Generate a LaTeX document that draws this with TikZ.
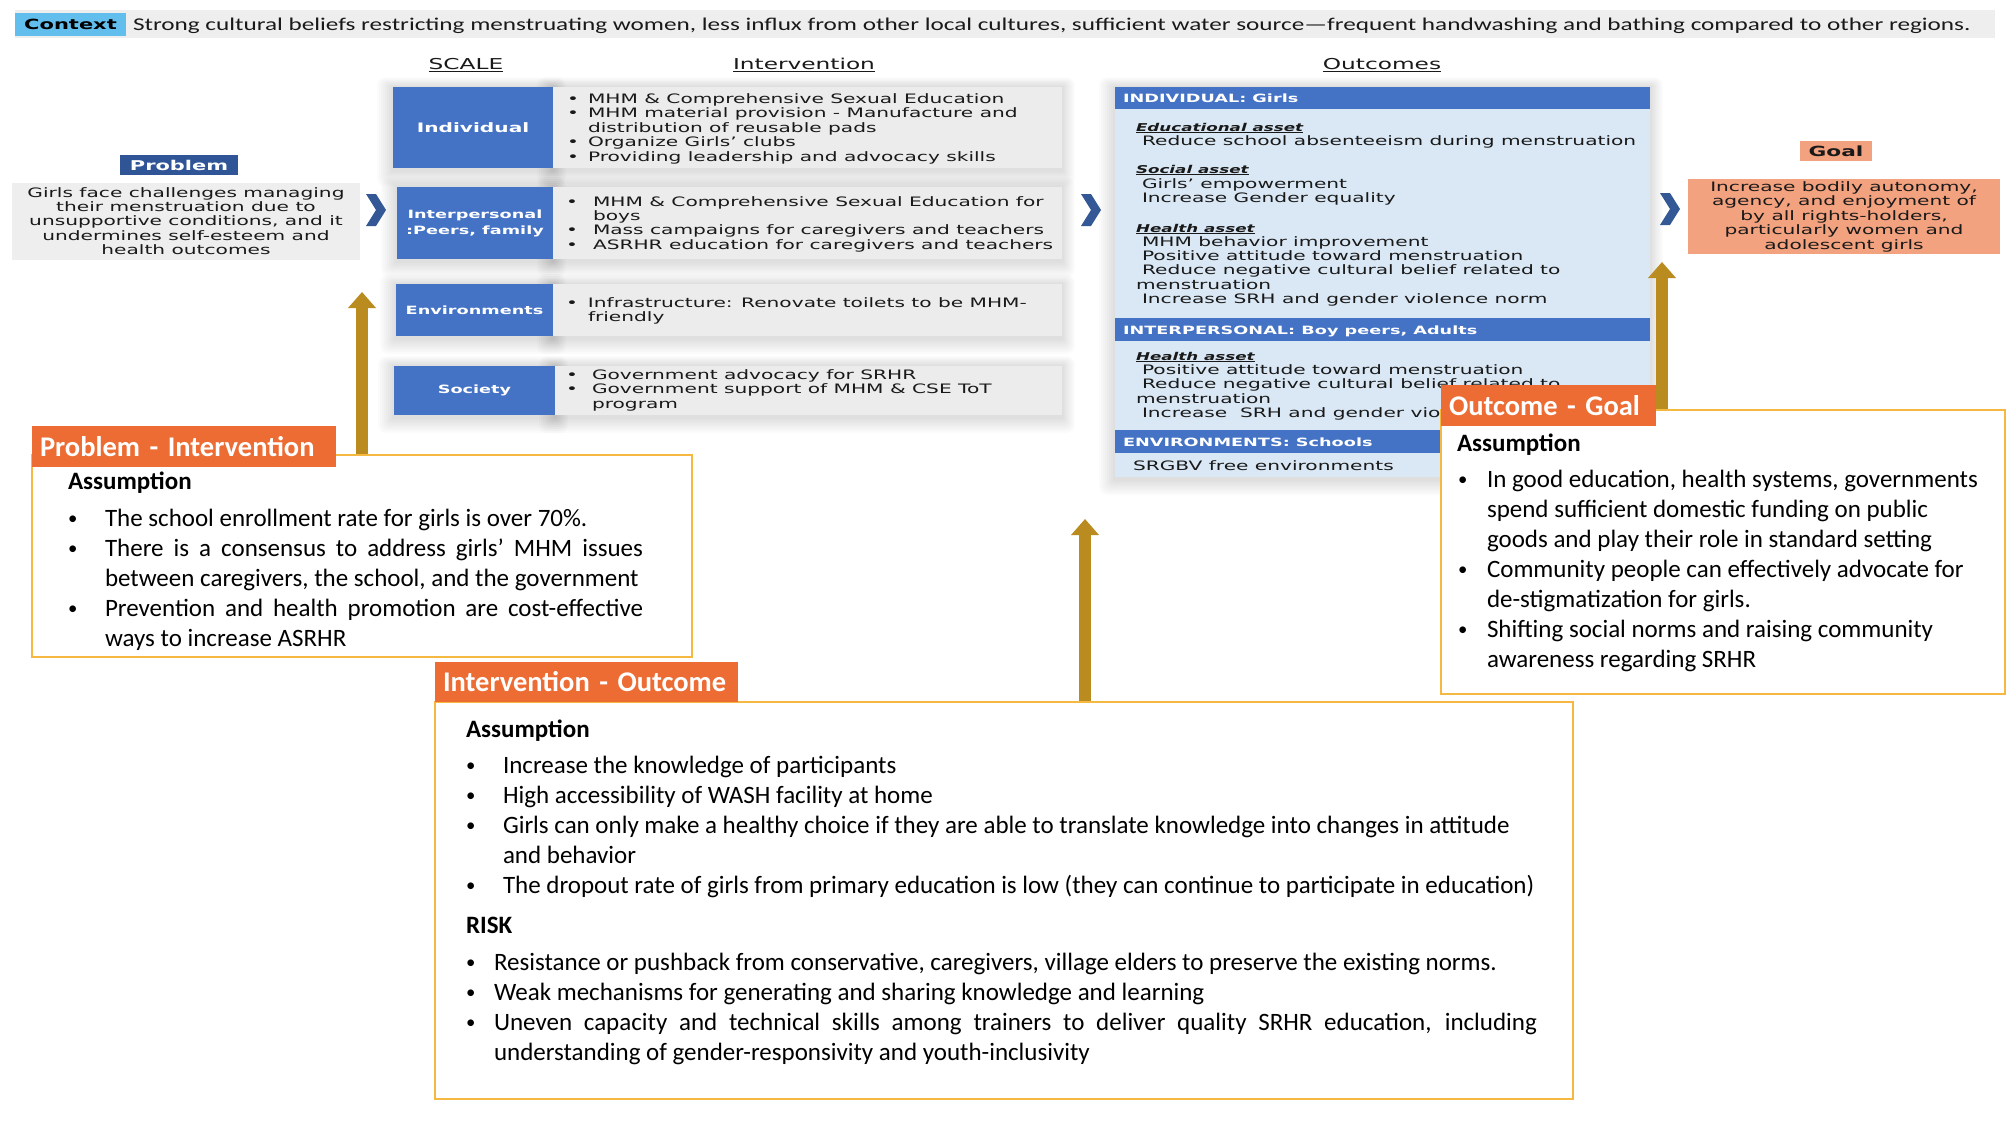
\documentclass[tikz,border=0pt]{standalone}
\usepackage{fontspec}
\usepackage{graphicx}
\setmainfont{Carlito}
\newfontfamily\wf[FakeStretch=1.55]{DejaVu Sans}
\newfontfamily\wfb[FakeStretch=1.5]{DejaVu Sans}
\newfontfamily\ctxf[FakeStretch=1.40]{Carlito}
\newfontfamily\cf{Carlito}
\usetikzlibrary{arrows.meta}
\definecolor{ctxgrey}{RGB}{238,238,238}
\definecolor{ctxblue}{RGB}{98,190,236}
\definecolor{scaleblue}{RGB}{68,114,196}
\definecolor{intgrey}{RGB}{236,236,236}
\definecolor{probnavy}{RGB}{47,85,151}
\definecolor{chev}{RGB}{52,88,150}
\definecolor{outblue}{RGB}{218,232,245}
\definecolor{goalsal}{RGB}{243,162,127}
\definecolor{goldarr}{RGB}{186,140,32}
\definecolor{lblorange}{RGB}{236,108,52}
\definecolor{boxgold}{RGB}{245,185,66}
\definecolor{txtdark}{RGB}{25,25,25}
\newcommand\myul[1]{\setbox0\hbox{#1}\rlap{\rule[-2.4pt]{\wd0}{1.2pt}}\box0}
\newcommand\mybul[1]{\makebox[#1][l]{\textbullet}}
\newcommand\mybulc[1]{\makebox[#1][l]{\raisebox{0.07em}{\scalebox{0.75}{\textbullet}}}}
\newcommand\mytab[2]{\begin{tabular}[t]{@{}#1@{}}#2\end{tabular}}
\newcommand\osp{\hspace*{6pt}}
\newcommand\softshadow[4]{\foreach \k in {1,...,8}{\fill[black, opacity=0.016, rounded corners=\k pt] (#1-\k*2,#2-\k*1.2) rectangle (#3+\k*1.6,#4+\k*2+2);}}
\tikzset{
  base/.style={inner sep=0pt, outer sep=0pt},
  tt/.style={base, anchor=base west, text=txtdark, font={\wf\fontsize{13}{14.4}\selectfont}},
  ttc/.style={tt, anchor=base},
  hdr/.style={base, text=txtdark, font={\wf\fontsize{15}{17}\selectfont}},
  sbox/.style={base, fill=scaleblue, text=white, align=center},
  ibox/.style={base, fill=intgrey, anchor=north west},
  obar/.style={base, fill=scaleblue, anchor=north west, minimum width=535pt},
  obtxt/.style={base, anchor=base west, text=white, font={\wf\bfseries\fontsize{11.4}{13}\selectfont}},
  ohd/.style={base, anchor=base west, text=txtdark, font={\wf\bfseries\itshape\fontsize{10.8}{13}\selectfont}},
  abox/.style={base, draw=boxgold, line width=2.5pt, fill=white, anchor=north west},
  albl/.style={base, fill=lblorange, text=white, anchor=north west, inner xsep=8pt, align=left, font={\cf\bfseries\fontsize{28.5}{32}\selectfont}},
  atitle/.style={base, anchor=base west, font={\cf\bfseries\fontsize{25}{28}\selectfont}},
  alist/.style={base, anchor=base west, font={\cf\fontsize{25}{30}\selectfont}},
  chevron/.style={fill=chev},
  goldarrow/.style={draw=goldarr, line width=12pt, -{Triangle[width=27pt,length=16pt]}},
}
\begin{document}
\begin{tikzpicture}[x=1pt,y=-1pt]
\useasboundingbox (0,0) rectangle (2008,1130);
\fill[white] (0,0) rectangle (2008,1130);

% context
\node[base, fill=ctxgrey, minimum width=1980pt, minimum height=28pt, anchor=north west] (ctxbar) at (15,10) {};
\node[base, fill=ctxblue, minimum width=111pt, minimum height=23pt] (ctxlbl) at (70.5,24.5) {\wfb\bfseries\fontsize{14}{16}\selectfont Context};
\node[base, anchor=base west, text=txtdark] (ctxtxt) at (133,30) {\ctxf\fontsize{18}{20}\selectfont Strong cultural beliefs restricting menstruating women, less influx from other local cultures, sufficient water source—frequent handwashing and bathing compared to other regions.};

% soft shadows
\softshadow{393}{87}{553}{168}
\softshadow{397}{187}{553}{259}
\softshadow{396}{284}{553}{336}
\softshadow{394}{366}{555}{415}
\softshadow{553}{87}{1062}{168}
\softshadow{553}{187}{1062}{259}
\softshadow{553}{284}{1062}{336}
\softshadow{555}{366}{1062}{415}
\softshadow{1115}{87}{1650}{477}

% headers
\node[hdr] (hScale) at (466,65) {\myul{SCALE}};
\node[hdr] (hInt) at (804,65) {\myul{Intervention}};
\node[hdr] (hOut) at (1382,65) {\myul{Outcomes}};

% scale boxes
\node[sbox, minimum width=160pt, minimum height=81pt, font={\wf\bfseries\fontsize{13}{15}\selectfont}] (sInd) at (473,127.5) {Individual};
\node[sbox, minimum width=156pt, minimum height=72pt, font={\wf\bfseries\fontsize{11.4}{16}\selectfont}] (sInt) at (475,223) {Interpersonal\\:Peers, family};
\node[sbox, minimum width=157pt, minimum height=52pt, font={\wf\bfseries\fontsize{11.4}{15}\selectfont}] (sEnv) at (474.5,310) {Environments};
\node[sbox, minimum width=161pt, minimum height=49pt, font={\wf\bfseries\fontsize{11.4}{15}\selectfont}] (sSoc) at (474.5,390.5) {Society};

% intervention boxes
\node[ibox, minimum width=509pt, minimum height=81pt] (iInd) at (553,87) {};
\node[ibox, minimum width=509pt, minimum height=72pt] (iInt) at (553,187) {};
\node[ibox, minimum width=509pt, minimum height=52pt] (iEnv) at (553,284) {};
\node[ibox, minimum width=507pt, minimum height=49pt] (iSoc) at (555,366) {};

\node[tt] (tInd) at (567,103.5) {\mytab{l}{\mybul{21pt}MHM \& Comprehensive Sexual Education\\
\mybul{21pt}MHM material provision - Manufacture and\\
\hspace*{21pt}distribution of reusable pads\\
\mybul{21pt}Organize Girls’ clubs\\
\mybul{21pt}Providing leadership and advocacy skills}};
\node[tt] (tInt) at (566,206) {\mytab{l}{\mybul{27pt}MHM \& Comprehensive Sexual Education for\\
\hspace*{27pt}boys\\
\mybul{27pt}Mass campaigns for caregivers and teachers\\
\mybul{27pt}ASRHR education for caregivers and teachers}};
\node[tt] (tEnv) at (566,307.5) {\mytab{l}{\mybul{22pt}Infrastructure: Renovate toilets to be MHM-\\
\hspace*{22pt}friendly}};
\node[tt] (tSoc) at (566,379.5) {\mytab{l}{\mybul{26pt}Government advocacy for SRHR\\
\mybul{26pt}Government support of MHM \& CSE ToT\\
\hspace*{26pt}program}};

% problem
\node[base, fill=probnavy, minimum width=118pt, minimum height=20pt, text=white] (pLbl) at (179,165) {\wf\bfseries\fontsize{13.5}{15}\selectfont Problem};
\node[base, fill=ctxgrey, minimum width=348pt, minimum height=77pt] (pBox) at (186,221.5) {};
\node[ttc] (pTxt) at (186,197) {\mytab{c}{Girls face challenges managing\\their menstruation due to\\unsupportive conditions, and it\\undermines self-esteem and\\health outcomes}};

% chevrons
\fill[chevron, shift={(375,210)}] (-9,-16) -- (1,-16) -- (11,0) -- (1,16) -- (-9,16) -- (1,0) -- cycle;
\fill[chevron, shift={(1090,210)}] (-9,-16) -- (1,-16) -- (11,0) -- (1,16) -- (-9,16) -- (1,0) -- cycle;
\fill[chevron, shift={(1669,209)}] (-9,-16) -- (1,-16) -- (11,0) -- (1,16) -- (-9,16) -- (1,0) -- cycle;

% outcomes panel
\node[base, fill=outblue, minimum width=535pt, minimum height=390pt, anchor=north west] (oPanel) at (1115,87) {};
\node[obar, minimum height=22pt] (oB1) at (1115,87) {};
\node[obar, minimum height=23pt] (oB2) at (1115,318) {};
\node[obar, minimum height=23pt] (oB3) at (1115,430) {};
\node[obtxt] (oB1t) at (1123,102.5) {INDIVIDUAL: Girls};
\node[obtxt] (oB2t) at (1123,334) {INTERPERSONAL: Boy peers, Adults};
\node[obtxt] (oB3t) at (1123,446) {ENVIRONMENTS: Schools};

\node[ohd] (oEdu) at (1136,131) {\myul{Educational asset}};
\node[tt] (oEduL) at (1142,145) {Reduce school absenteeism during menstruation};
\node[ohd] (oSoc) at (1136,173) {\myul{Social asset}};
\node[tt] (oSocL) at (1142,188) {\mytab{l}{Girls’ empowerment\\Increase Gender equality}};
\node[ohd] (oHea) at (1136,232) {\myul{Health asset}};
\node[tt] (oHeaL) at (1136,246) {\mytab{l}{\osp MHM behavior improvement\\
\osp Positive attitude toward menstruation\\
\osp Reduce negative cultural belief related to\\
menstruation\\
\osp Increase SRH and gender violence norm}};
\node[ohd] (oHea2) at (1136,360) {\myul{Health asset}};
\node[tt] (oHea2L) at (1136,374.5) {\mytab{l}{\osp Positive attitude toward menstruation\\
\osp Reduce negative cultural belief related to\\
menstruation\\
\osp Increase\ \ SRH and gender violence norm}};
\node[tt] (oEnvL) at (1133,470) {SRGBV free environments};

% goal
\node[base, fill=goalsal, minimum width=72pt, minimum height=20pt, text=txtdark] (gLbl) at (1836,151) {\wf\bfseries\fontsize{14}{15}\selectfont Goal};
\node[base, fill=goalsal, minimum width=312pt, minimum height=75pt] (gBox) at (1844,216.5) {};
\node[ttc] (gTxt) at (1844,191.5) {\mytab{c}{Increase bodily autonomy,\\agency, and enjoyment of\\by all rights-holders,\\particularly women and\\adolescent girls}};

% gold arrows
\coordinate (a1s) at (362,456);
\coordinate (a1e) at (362,292);
\coordinate (a2s) at (1085,703);
\coordinate (a2e) at (1085,519);
\coordinate (a3s) at (1662,411);
\coordinate (a3e) at (1662,262);
\draw[goldarrow] (a1s) -- (a1e);
\draw[goldarrow] (a2s) -- (a2e);
\draw[goldarrow] (a3s) -- (a3e);

% Problem - Intervention
\node[abox, minimum width=660pt, minimum height=202pt] (piBox) at (32,455) {};
\node[albl, text width=288pt, minimum height=41pt] (piLbl) at (32,426) {Problem - Intervention};
\node[atitle] (piA) at (68,489) {Assumption};
\node[alist] (piL) at (68,526) {\mytab{l}{\mybulc{37pt}The school enrollment rate for girls is over 70\%.\\
\mybulc{37pt}\makebox[538pt][s]{There is a consensus to address girls’ MHM issues}\\
\hspace*{37pt}between caregivers, the school, and the government\\
\mybulc{37pt}\makebox[538pt][s]{Prevention and health promotion are cost-effective}\\
\hspace*{37pt}ways to increase ASRHR}};

% Intervention - Outcome
\node[abox, minimum width=1138pt, minimum height=397pt] (ioBox) at (435,702) {};
\node[albl, text width=287pt, minimum height=40pt] (ioLbl) at (435,662) {Intervention - Outcome};
\node[atitle] (ioA) at (466,737) {Assumption};
\node[alist] (ioL) at (466,773.5) {\mytab{l}{\mybulc{37pt}Increase the knowledge of participants\\
\mybulc{37pt}High accessibility of WASH facility at home\\
\mybulc{37pt}Girls can only make a healthy choice if they are able to translate knowledge into changes in attitude\\
\hspace*{37pt}and behavior\\
\mybulc{37pt}The dropout rate of girls from primary education is low (they can continue to participate in education)}};
\node[atitle] (ioR) at (466,933) {RISK};
\node[alist] (ioRL) at (466,970.5) {\mytab{l}{\mybulc{28pt}Resistance or pushback from conservative, caregivers, village elders to preserve the existing norms.\\
\mybulc{28pt}Weak mechanisms for generating and sharing knowledge and learning\\
\mybulc{28pt}\makebox[1043pt][s]{Uneven capacity and technical skills among trainers to deliver quality SRHR education, including}\\
\hspace*{28pt}understanding of gender-responsivity and youth-inclusivity}};

% Outcome - Goal
\node[abox, minimum width=564pt, minimum height=284pt] (ogBox) at (1441,410) {};
\node[albl, text width=199pt, minimum height=41pt] (ogLbl) at (1441,385) {Outcome - Goal};
\node[atitle] (ogA) at (1457,451) {Assumption};
\node[alist] (ogL) at (1458,487.5) {\mytab{l}{\mybulc{29pt}In good education, health systems, governments\\
\hspace*{29pt}spend sufficient domestic funding on public\\
\hspace*{29pt}goods and play their role in standard setting\\
\mybulc{29pt}Community people can effectively advocate for\\
\hspace*{29pt}de-stigmatization for girls.\\
\mybulc{29pt}Shifting social norms and raising community\\
\hspace*{29pt}awareness regarding SRHR}};
\end{tikzpicture}
\end{document}
